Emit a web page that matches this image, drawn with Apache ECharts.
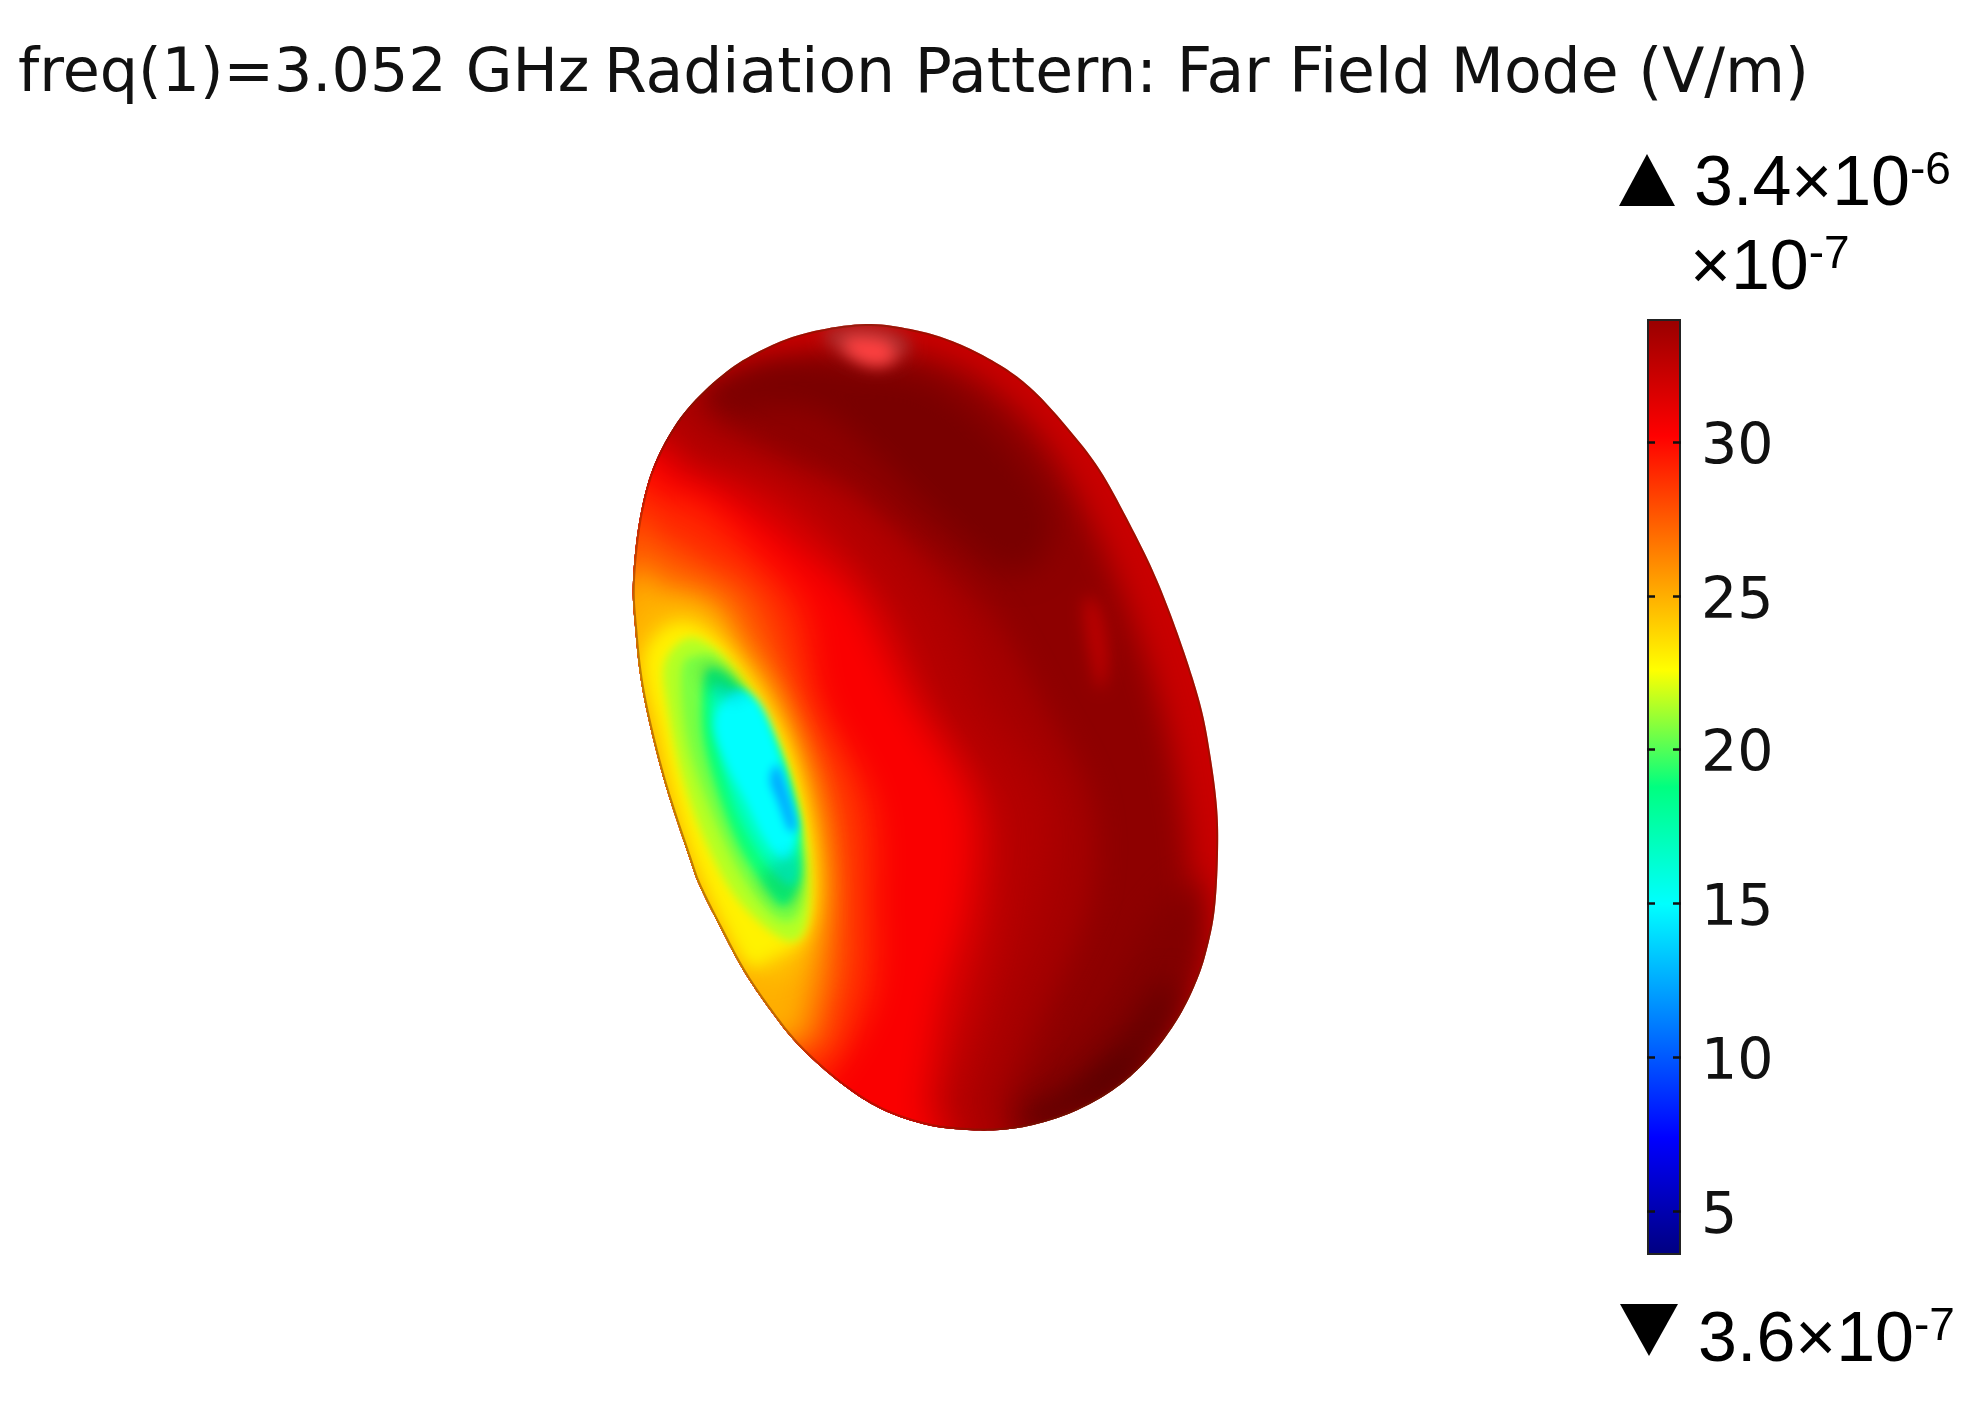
<!DOCTYPE html>
<html>
<head>
<meta charset="utf-8">
<title>Radiation Pattern</title>
<script src="https://cdn.jsdelivr.net/npm/echarts@6/dist/echarts.min.js"></script>
<style>
html, body { margin: 0; padding: 0; background: #fff; }
#main { width: 1987px; height: 1405px; }
</style>
</head>
<body>
<div id="main"></div>
<script>
// colour scale, x10^-7 V/m. values above 34 only stand for the shaded side of the surface
var scaleValues = [3.6, 7.4, 11.2, 15, 18.8, 22.6, 26.4, 30.2, 34, 37.8];
var scaleColors = ['#000080', '#0000ff', '#0080ff', '#00ffff', '#00ff80', '#ffff00', '#ff8000', '#ff0000', '#980000', '#4a0000'];
var tickValues = [5, 10, 15, 20, 25, 30];
var scaleMin = 3.6;
var scaleMax = 34;

var titleLeft = 'freq(1)=3.052 GHz';
var titleRight = 'Radiation Pattern: Far Field Mode (V/m)';

// outline of the lobe
var outline = [
    [866, 324], [915, 330], [957, 343], [1000, 365], [1033, 390], [1067, 427], [1100, 470], [1133, 530],
    [1157, 580], [1180, 640], [1200, 703], [1210, 753], [1217, 807], [1218, 853], [1215, 907], [1208, 945],
    [1197, 980], [1177, 1020], [1147, 1060], [1113, 1090], [1073, 1112], [1033, 1125], [1000, 1130], [967, 1130],
    [927, 1125], [883, 1110], [843, 1085], [800, 1047], [770, 1010], [743, 970], [720, 927], [700, 887],
    [690, 860], [663, 777], [643, 693], [635, 627], [633, 580], [640, 517], [655, 463], [684, 413],
    [726, 372], [768, 347], [810, 332]
];

// field level of each filled contour, painted in this order
var contourValues = [32.2, 34.5, 35.5, 35, 36.5, 37.5, 33.5, 33, 32, 30.4, 29, 27.5, 25, 24, 23, 21.5, 20.6, 19, 17, 15, 12.5];
var contourPaths = [
    outline,
    [[780, 365], [860, 345], [950, 365], [1005, 400], [1050, 450], [1095, 530], [1125, 600], [1150, 670], [1170, 740], [1183, 810], [1190, 870], [1190, 930], [1175, 985], [1150, 1030], [1110, 1075], [1060, 1105], [1000, 1130], [800, 1100], [650, 800], [640, 500], [700, 400]],
    [[700, 395], [770, 362], [860, 372], [930, 385], [1000, 440], [1050, 510], [1040, 560], [1000, 570], [930, 510], [880, 460], [820, 410], [760, 405], [720, 415]],
    [[1195, 880], [1205, 950], [1180, 1020], [1150, 1060], [1110, 1095], [1055, 1120], [1000, 1135], [975, 1125], [1035, 1085], [1100, 1010], [1150, 920]],
    [[1175, 1010], [1145, 1060], [1110, 1095], [1060, 1120], [1020, 1135], [1000, 1128], [1060, 1095], [1120, 1040], [1165, 980]],
    [[1150, 1055], [1115, 1090], [1070, 1115], [1040, 1128], [1035, 1118], [1075, 1100], [1120, 1065]],
    [[640, 420], [760, 450], [880, 520], [980, 600], [1040, 700], [1090, 800], [1090, 900], [1050, 1000], [1005, 1100], [985, 1150], [600, 1150], [560, 800]],
    [[640, 430], [720, 440], [790, 470], [855, 500], [941, 600], [983, 700], [1047, 800], [1039, 900], [1005, 1000], [975, 1100], [960, 1150], [600, 1150], [560, 800]],
    [[630, 455], [700, 465], [792, 500], [885, 600], [932, 700], [992, 800], [996, 900], [975, 1000], [945, 1100], [935, 1150], [600, 1150], [560, 800]],
    [[620, 470], [690, 480], [740, 505], [800, 550], [855, 600], [907, 700], [966, 800], [966, 900], [940, 1000], [924, 1100], [915, 1150], [600, 1150], [560, 800]],
    [[620, 490], [660, 495], [706, 510], [760, 560], [804, 610], [821, 700], [872, 800], [877, 900], [872, 1000], [821, 1085], [780, 1090], [560, 800]],
    [[620, 540], [660, 540], [700, 560], [758, 600], [796, 700], [838, 800], [847, 900], [838, 1000], [790, 1050], [560, 900]],
    [[620, 590], [664, 585], [719, 605], [740, 650], [775, 700], [809, 800], [821, 900], [813, 1000], [770, 1040], [560, 900]],
    [[642, 640], [680, 612], [715, 630], [755, 680], [790, 745], [812, 820], [818, 900], [797, 955], [765, 975], [735, 945], [703, 885], [678, 800], [660, 720], [647, 680]],
    [[646, 655], [665, 630], [690, 625], [720, 645], [755, 690], [787, 750], [808, 830], [812, 900], [800, 940], [775, 955], [750, 965], [723, 920], [693, 853], [672, 787], [656, 720], [648, 690]],
    [[664, 665], [683, 640], [705, 642], [735, 670], [770, 725], [795, 790], [808, 860], [806, 925], [785, 940], [738, 900], [705, 840], [682, 775], [668, 710]],
    [[682, 668], [700, 655], [718, 660], [745, 695], [775, 745], [797, 810], [803, 880], [795, 918], [772, 915], [738, 870], [706, 800], [686, 735]],
    [[712, 668], [730, 677], [753, 705], [777, 753], [790, 793], [798, 837], [800, 877], [793, 898], [783, 906], [770, 895], [738, 845], [715, 785], [703, 737], [702, 697], [705, 675]],
    [[716, 684], [735, 693], [760, 725], [782, 770], [795, 825], [798, 872], [787, 885], [762, 858], [736, 810], [718, 750], [711, 708]],
    [[735, 690], [760, 705], [778, 750], [788, 790], [797, 830], [785, 860], [765, 840], [745, 800], [725, 760], [715, 720]],
    [[777, 765], [787, 790], [796, 825], [789, 830], [778, 802], [770, 780]]
];

// specular spots and shaded parts that are not on the scale
var glowColors = ['rgba(168,48,48,0.9)', 'rgba(255,64,64,1)', 'rgba(192,0,0,0.9)', 'rgba(0,60,40,0.18)', 'rgba(0,60,40,0.15)'];
var glowPaths = [
    [[825, 330], [865, 325], [900, 333], [910, 350], [885, 362], [855, 358], [830, 345]],
    [[845, 338], [885, 340], [895, 358], [875, 366], [850, 355]],
    [[1088, 595], [1102, 615], [1108, 660], [1100, 690], [1090, 655], [1084, 615]],
    [[700, 665], [725, 668], [745, 690], [735, 700], [710, 690]],
    [[760, 880], [785, 855], [800, 860], [798, 900], [780, 905]]
];

// the two end markers of the colour bar
var markerUp = [[1647, 180]];
var markerDown = [[1649, 1330]];

var contourData = contourValues.map(function (v, i) { return [v, i]; });
var glowData = glowColors.map(function (c, i) { return [0, i]; });

// contours are moved off the canvas and only their shadow lands on the surface, so both sides of an edge stay soft
var shadowShift = 3000;

function toPixels(api, path) {
    return path.map(function (p) { return api.coord(p); });
}

// closed Catmull-Rom through the read points, only so the drawn edge is round
function rounded(points) {
    var out = [];
    var n = points.length;
    for (var i = 0; i < n; i++) {
        var p0 = points[(i + n - 1) % n], p1 = points[i], p2 = points[(i + 1) % n], p3 = points[(i + 2) % n];
        for (var k = 0; k < 10; k++) {
            var t = k / 10, t2 = t * t, t3 = t2 * t;
            out.push([
                0.5 * (2 * p1[0] + (p2[0] - p0[0]) * t + (2 * p0[0] - 5 * p1[0] + 4 * p2[0] - p3[0]) * t2 + (3 * p1[0] - p0[0] - 3 * p2[0] + p3[0]) * t3),
                0.5 * (2 * p1[1] + (p2[1] - p0[1]) * t + (2 * p0[1] - 5 * p1[1] + 4 * p2[1] - p3[1]) * t2 + (3 * p1[1] - p0[1] - 3 * p2[1] + p3[1]) * t3)
            ]);
        }
    }
    return out;
}

function shifted(api, path) {
    return rounded(toPixels(api, path)).map(function (p) { return [p[0] - shadowShift, p[1]]; });
}

function surfaceClip(api) {
    return { type: 'polygon', shape: { points: rounded(toPixels(api, outline)) } };
}

function softenFor(value) {
    if (value >= 24) { return 30; }
    if (value >= 22) { return 16; }
    return 10;
}

function renderContour(params, api) {
    var i = api.value(1);
    var color = api.visual('color');
    if (i === 0) {
        return {
            type: 'polygon',
            shape: { points: rounded(toPixels(api, outline)) },
            style: { fill: color }
        };
    }
    return {
        type: 'polygon',
        shape: { points: shifted(api, contourPaths[i]) },
        style: { fill: color, shadowColor: color, shadowBlur: softenFor(api.value(0)), shadowOffsetX: shadowShift },
        clipPath: surfaceClip(api)
    };
}

function renderGlow(params, api) {
    var i = api.value(1);
    return {
        type: 'polygon',
        shape: { points: shifted(api, glowPaths[i]) },
        style: { fill: '#000', shadowColor: glowColors[i], shadowBlur: 16, shadowOffsetX: shadowShift },
        clipPath: surfaceClip(api)
    };
}

function renderRim(params, api) {
    return {
        type: 'polygon',
        shape: { points: rounded(toPixels(api, outline)) },
        style: { fill: 'none', stroke: 'rgba(110,30,0,0.45)', lineWidth: 4 },
        clipPath: surfaceClip(api)
    };
}

// gradient of the colour bar, only the part of the scale up to its maximum
var barStops = [];
scaleValues.forEach(function (v, i) {
    if (v <= scaleMax) {
        barStops.push({ offset: (scaleMax - v) / (scaleMax - scaleMin), color: scaleColors[i] });
    }
});
barStops.reverse();

var tickStyle = { show: true, inside: true, length: 8, customValues: tickValues, lineStyle: { color: '#111', width: 2.5 } };
var supRich = {
    big: { fontFamily: 'Liberation Sans', fontWeight: 'normal', fontSize: 70, color: '#000', lineHeight: 76 },
    sup: { fontFamily: 'Liberation Sans', fontWeight: 'normal', fontSize: 46, color: '#000', lineHeight: 76, verticalAlign: 'top' }
};

var myChart = echarts.init(document.getElementById('main'));
var option = {
    animation: false,
    backgroundColor: '#fff',
    title: [
        { text: titleLeft, left: 13, top: 40, textStyle: { fontFamily: 'DejaVu Sans', fontWeight: 'normal', fontSize: 60.3, color: '#111' } },
        { text: titleRight, left: 599, top: 40, textStyle: { fontFamily: 'DejaVu Sans', fontWeight: 'normal', fontSize: 61.6, color: '#111' } },
        { text: '{big|3.4×10}{sup|-6}', left: 1689, top: 143, textStyle: { rich: supRich } },
        { text: '{big|×10}{sup|-7}', left: 1685, top: 227, textStyle: { rich: supRich } },
        { text: '{big|3.6×10}{sup|-7}', left: 1693, top: 1299, textStyle: { rich: supRich } }
    ],
    grid: [
        { left: 0, top: 0, width: 1987, height: 1405 },
        { left: 1647, top: 319, width: 34, height: 935 }
    ],
    xAxis: [
        { type: 'value', gridIndex: 0, min: 0, max: 1987, show: false },
        { type: 'category', gridIndex: 1, data: ['E'], show: false }
    ],
    yAxis: [
        { type: 'value', gridIndex: 0, min: 0, max: 1405, inverse: true, show: false },
        {
            type: 'value', gridIndex: 1, min: scaleMin, max: scaleMax, position: 'right', z: 3,
            axisLine: { show: false }, splitLine: { show: false }, axisTick: tickStyle,
            axisLabel: { customValues: tickValues, margin: 20, verticalAlign: 'top', lineHeight: 14, fontFamily: 'DejaVu Sans', fontSize: 57, color: '#111' }
        },
        {
            type: 'value', gridIndex: 1, min: scaleMin, max: scaleMax, position: 'left', z: 3,
            axisLine: { show: false }, splitLine: { show: false }, axisTick: tickStyle,
            axisLabel: { show: false }
        }
    ],
    visualMap: {
        show: false, type: 'continuous', seriesIndex: 0, dimension: 0,
        min: scaleValues[0], max: scaleValues[scaleValues.length - 1],
        inRange: { color: scaleColors }
    },
    series: [
        { type: 'custom', xAxisIndex: 0, yAxisIndex: 0, clip: false, renderItem: renderContour, data: contourData, z: 2 },
        { type: 'custom', xAxisIndex: 0, yAxisIndex: 0, clip: false, renderItem: renderGlow, data: glowData, z: 3 },
        { type: 'custom', xAxisIndex: 0, yAxisIndex: 0, clip: false, renderItem: renderRim, data: [[0, 0]], z: 4 },
        {
            type: 'bar', xAxisIndex: 1, yAxisIndex: 1, data: [scaleMax], barWidth: '100%', z: 2,
            itemStyle: {
                color: { type: 'linear', x: 0, y: 0, x2: 0, y2: 1, colorStops: barStops },
                borderColor: '#222', borderWidth: 2
            }
        },
        { type: 'scatter', xAxisIndex: 0, yAxisIndex: 0, data: markerUp, symbol: 'triangle', symbolSize: [56, 52], itemStyle: { color: '#000', opacity: 1 } },
        { type: 'scatter', xAxisIndex: 0, yAxisIndex: 0, data: markerDown, symbol: 'triangle', symbolRotate: 180, symbolSize: [58, 52], itemStyle: { color: '#000', opacity: 1 } }
    ]
};
myChart.setOption(option);
</script>
</body>
</html>
